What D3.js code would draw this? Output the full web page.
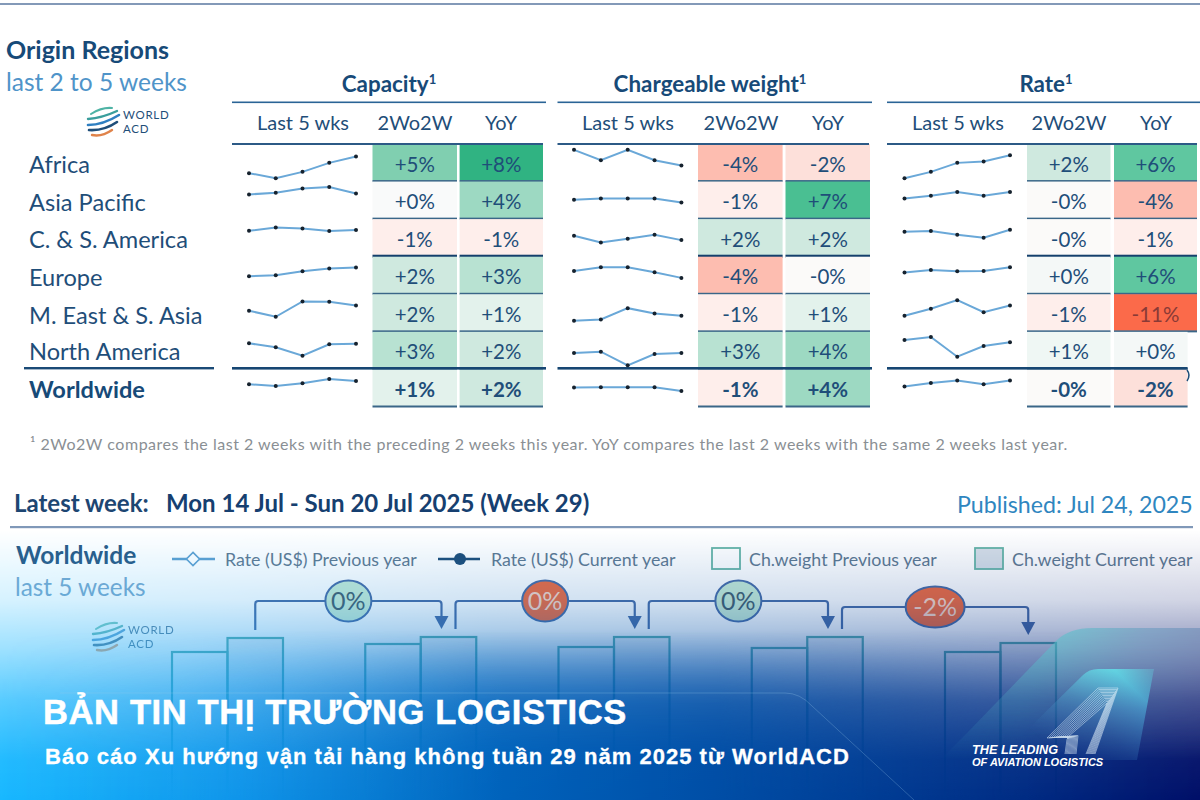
<!DOCTYPE html>
<html><head><meta charset="utf-8">
<script src="https://cdn.jsdelivr.net/npm/d3@7"></script>
<style>html,body{margin:0;padding:0;background:#fff}svg{display:block}</style>
</head><body><div id="c"></div>
<script>
const regions=["Africa","Asia Pacific","C. & S. America","Europe","M. East & S. Asia","North America","Worldwide"];
const metrics=["Capacity","Chargeable weight","Rate"];
const weekIdx=[1,2,3,4,5];
const capacitySpark=[[8.4,3.4,9.7,18.7,25.1],[24.7,26.4,30.7,32.1,25.7],[25.9,29.2,28.2,25.6,26.6],[18.1,19.1,23.1,25.7,26.7],[21.1,15.1,30.4,30.1,26.4],[26.1,22.1,13.7,25.1,25.7],[22.7,21.1,23.7,28.1,26.1]];
const weightSpark=[[31.7,21.4,31.7,21.4,16.1],[19.4,20.7,20.7,20.7,16.7],[20.9,14.2,17.9,21.9,16.6],[23.4,27.1,27.1,22.1,16.4],[11.1,12.4,23.7,18.4,16.1],[16.4,17.7,4.1,15.4,16.4],[19.4,19.7,19.7,19.7,16.1]];
const rateSpark=[[3.4,9.7,18.7,20.1,26.4],[20.7,23.4,27.1,23.4,27.1],[24.9,25.6,21.9,18.9,26.9],[21.7,24.4,23.1,23.4,27.1],[16.1,23.1,31.7,19.7,26.4],[29.4,32.4,12.7,23.4,27.1],[20.4,24.1,26.4,22.7,26.4]];
const capacity2w=["+5%","+0%","-1%","+2%","+2%","+3%","+1%"], capacity2wV=[5,0.1,-1,2,2,3,1];
const capacityYoy=["+8%","+4%","-1%","+3%","+1%","+2%","+2%"], capacityYoyV=[8,4,-1,3,1,2,2];
const weight2w=["-4%","-1%","+2%","-4%","-1%","+3%","-1%"], weight2wV=[-4,-1,2,-4,-1,3,-1];
const weightYoy=["-2%","+7%","+2%","-0%","+1%","+4%","+4%"], weightYoyV=[-2,7,2,-0.1,1,4,4];
const rate2w=["+2%","-0%","-0%","+0%","-1%","+1%","-0%"], rate2wV=[2,-0.1,-0.1,0.3,-1,0.5,-0.1];
const rateYoy=["+6%","-4%","-1%","+6%","-11%","+0%","-2%"], rateYoyV=[6,-4,-1,6,-11,0.3,-2];
const bubbleLabels=["0%","0%","0%","-2%"];
const bubbleKinds=["up","down","up","down"];
const chPrev=[148,156,153,152,148];
const chCurr=[162,163,163,163,157];
const groups=["w1","w2","w3","w4","w5"];

const W=1200,H=800;
const navy="#1f4e79";
const svg=d3.select("#c").append("svg").attr("width",W).attr("height",H).attr("viewBox",`0 0 ${W} ${H}`).attr("font-family","Lato,sans-serif");
const defs=svg.append("defs");
const T=(g,x,y,s,o={})=>g.append("text").attr("x",x).attr("y",y).text(s)
  .attr("font-size",o.size||20).attr("font-weight",o.w||400).attr("fill",o.c||navy)
  .attr("text-anchor",o.a||"start").attr("letter-spacing",o.ls||null).attr("font-family",o.f||null).attr("font-style",o.st||null)
  .attr("stroke",o.sw?(o.c||navy):null).attr("stroke-width",o.sw||null);

svg.append("rect").attr("width",W).attr("height",H).attr("fill","#fff");
svg.append("rect").attr("x",0).attr("y",3).attr("width",W).attr("height",2).attr("fill","#8399b8");

// ---- titles
const topG=svg.append("g");
T(topG,6,59,"Origin Regions",{size:25,w:700,c:"#174a78"});
T(topG,6,91,"last 2 to 5 weeks",{size:24.5,c:"#4f94c9"});

function logo(g,x,y,s,op){
  const L=g.append("g").attr("transform",`translate(${x},${y}) scale(${s})`).attr("opacity",op).attr("fill","none").attr("stroke-linecap","round");
  [["M3 9Q14 2 24 3","#4fb3a5",2],["M0 14Q14 13 29 6","#3a9e9c",2.4],["M0 20Q15 20 31 10","#2f7fc1",2.6],["M1 25Q16 26 29 17","#1f4e79",2.6],["M4 30Q14 32 24 25","#e0834a",2.4]]
    .forEach(a=>L.append("path").attr("d",a[0]).attr("stroke",a[1]).attr("stroke-width",a[2]));
  T(L,35,14,"WORLD",{size:11.5,c:"#1f4e79",ls:.7});
  T(L,35,28,"ACD",{size:11.5,c:"#1f4e79",ls:.7});
}
logo(topG,88,105,1,1);

// ---- table
const y=d3.scaleBand().domain(regions).range([144,407]);
const spY=d3.scaleLinear().domain([0,y.bandwidth()]).range([y.bandwidth(),0]);
const fillScale=d3.scaleLinear()
  .domain([-11,-4,-2,-1,0,1,2,3,4,5,6,7,8])
  .range(["#fb6a4a","#fdbdb0","#fde0da","#feeeeb","#fbfbfb","#e3f2ec","#cfe9df","#b8e2d2","#9dd9c2","#80cfb0","#5fc7a0","#4abf92","#30b382"]);
const tables=[
 {name:metrics[0],head:[232,546],sub:[303,415,501],spark:capacitySpark,sx:[249,356],c:[[372.5,457,capacity2w,capacity2wV],[459.6,543,capacityYoy,capacityYoyV]]},
 {name:metrics[1],head:[557.5,872],sub:[628,741,828],spark:weightSpark,sx:[574,681.4],c:[[698,782.6,weight2w,weight2wV],[785.5,870,weightYoy,weightYoyV]]},
 {name:metrics[2],head:[887,1200],sub:[958,1069,1156],spark:rateSpark,sx:[904.5,1010],c:[[1027,1110.5,rate2w,rate2wV],[1114,1197,rateYoy,rateYoyV]]}
];
const tb=svg.append("g");
regions.forEach((r,i)=>{
  const ww=r==="Worldwide";
  T(tb,29,[173,210.5,248,286,323.5,360,398][i],r,{size:23.6,w:ww?700:400,c:ww?"#174a78":"#1f4e79"});
});
tb.append("rect").attr("x",24).attr("y",367).attr("width",190).attr("height",2.4).attr("fill","#1a4a76");
tables.forEach((t,ti)=>{
  const hd=T(tb,[389,710,1046][ti],92,t.name,{size:22.4,w:700,a:"middle",c:"#174a78"});
  hd.append("tspan").text("1").attr("font-size",13).attr("dy",-8);
  tb.append("rect").attr("x",t.head[0]).attr("y",101.5).attr("width",t.head[1]-t.head[0]).attr("height",1.6).attr("fill","#2a6496");
  ["Last 5 wks","2Wo2W","YoY"].forEach((s,k)=>T(tb,t.sub[k],130,s,{size:20,a:"middle",c:"#1f4e79"}));
  const sx=d3.scalePoint().domain(weekIdx).range(t.sx);
  const line=d3.line().x((d,k)=>sx(weekIdx[k])).y(d=>spY(d));
  t.c.forEach(col=>{
    regions.forEach((r,i)=>{
      const rowT=y(r), bw=y.bandwidth();
      const xr=(ti===2&&col===t.c[1]&&i>=5)?1187.6:col[1];
      tb.append("rect").attr("x",col[0]).attr("y",rowT).attr("width",xr-col[0]).attr("height",bw-1).attr("fill",fillScale(col[3][i]));
      const thick=i===2?3:2;
      tb.append("rect").attr("x",col[0]).attr("y",rowT+bw-thick/2-.5).attr("width",xr-col[0]).attr("height",thick)
        .attr("fill",i===2?"#14406c":"#3a6688");
      const red=col[3][i]<-8;
      T(tb,(col[0]+col[1])/2,rowT+27.5,col[2][i],{size:20.5,a:"middle",w:i===6?700:400,c:red?"#8a3a36":"#1f4e79"});
    });
  });
  tb.append("rect").attr("x",t.head[0]).attr("y",143).attr("width",t.head[1]-t.head[0]-3).attr("height",2).attr("fill","#2c5a86");
  tb.append("rect").attr("x",t.head[0]).attr("y",367).attr("width",(ti===2?1187.6:t.head[1])-t.head[0]).attr("height",2.6).attr("fill","#164672");
  regions.forEach((r,i)=>{
    const g=tb.append("g").attr("transform",`translate(0,${y(r)})`);
    g.append("path").attr("d",line(t.spark[i])).attr("fill","none").attr("stroke","#6aa8d8").attr("stroke-width",2);
    g.selectAll("circle").data(t.spark[i]).join("circle").attr("cx",(d,k)=>sx(weekIdx[k])).attr("cy",d=>spY(d)).attr("r",2).attr("fill","#16222e");
  });
});
tb.append("path").attr("d","M1187 370Q1191 375 1187 381").attr("fill","none").attr("stroke","#1f4e79").attr("stroke-width",1.5);

T(svg,30,450,"¹ 2Wo2W compares the last 2 weeks with the preceding 2 weeks this year. YoY compares the last 2 weeks with the same 2 weeks last year.",{size:16,c:"#8a8f94",ls:.52});

// ---- lower header
const low=svg.append("g");
T(low,14,512,"Latest week:",{size:24,w:700,c:"#1d4672"});
T(low,166,512,"Mon 14 Jul - Sun 20 Jul 2025 (Week 29)",{size:24,w:700,c:"#163f70"});
T(low,957,513,"Published: Jul 24, 2025",{size:23.2,c:"#2f86c0"});
low.append("rect").attr("x",10).attr("y",526).attr("width",1183).attr("height",2.2).attr("fill","#8098b8");

// ---- lower chart (beneath the overlay)
const chart=svg.append("g");
T(chart,16,564,"Worldwide",{size:24.5,w:700,c:"#2a5a86"});
T(chart,15,596,"last 5 weeks",{size:24.3,c:"#7aa9cf"});
const legC="#5f7a92";
chart.append("line").attr("x1",172).attr("x2",215).attr("y1",559).attr("y2",559).attr("stroke","#5fa0d0").attr("stroke-width",2.4);
chart.append("path").attr("d",d3.symbol(d3.symbolDiamond2,110)()).attr("transform","translate(193,559)").attr("fill","#fff").attr("stroke","#5fa0d0").attr("stroke-width",1.6);
T(chart,225,566,"Rate (US$) Previous year",{size:17.8,c:legC});
chart.append("line").attr("x1",438).attr("x2",480).attr("y1",559).attr("y2",559).attr("stroke","#1f4e79").attr("stroke-width",2.6);
chart.append("circle").attr("cx",460).attr("cy",559).attr("r",6).attr("fill","#1f4e79");
T(chart,491,566,"Rate (US$) Current year",{size:17.8,c:legC});
chart.append("rect").attr("x",712).attr("y",548).attr("width",28).attr("height",21).attr("fill","#fff").attr("stroke","#67b5a8").attr("stroke-width",1.8);
T(chart,749,566,"Ch.weight Previous year",{size:17.8,c:legC});
chart.append("rect").attr("x",975).attr("y",548).attr("width",28).attr("height",21).attr("fill","#d6dfe8").attr("stroke","#67b5a8").attr("stroke-width",1.8);
T(chart,1012,566,"Ch.weight Current year",{size:17.8,c:legC});
logo(chart,93,620,1,.7);

const gx=d3.scaleBand().domain(groups).range([172,1056]).paddingInner(.4256);
const sub=d3.scaleBand().domain(["prev","curr"]).range([0,gx.bandwidth()]);
const by=d3.scaleLinear().domain([0,165]).range([800,635]);
const bars=chart.selectAll("g.grp").data(groups).join("g").attr("class","grp").attr("transform",d=>`translate(${gx(d)},0)`);
bars.append("rect").attr("x",sub("prev")).attr("width",sub.bandwidth()).attr("y",(d,i)=>by(chPrev[i])).attr("height",(d,i)=>by(0)-by(chPrev[i]))
  .attr("fill","#fff").attr("fill-opacity",.25).attr("stroke","#5fb0ae").attr("stroke-width",2.2);
bars.append("rect").attr("x",sub("curr")).attr("width",sub.bandwidth()).attr("y",(d,i)=>by(chCurr[i])).attr("height",(d,i)=>by(0)-by(chCurr[i]))
  .attr("fill","#d6dfe8").attr("fill-opacity",.35).attr("stroke","#5fb0ae").attr("stroke-width",2.2);
const cc=i=>gx(groups[i])+sub("curr")+sub.bandwidth()/2;
const arrC="#4a6ea8";
d3.range(4).forEach(i=>{
  const x0=cc(i)+(i?7:0), x1=cc(i+1)-(i<3?7:0);
  const lv=by(chCurr[i+1])-36, y0=by(chCurr[i])-8, tip=by(chCurr[i+1])-8;
  chart.append("path").attr("d",`M${x0} ${y0}V${lv+3}Q${x0} ${lv} ${x0+3} ${lv}H${x1-3}Q${x1} ${lv} ${x1} ${lv+3}V${tip-12}`)
    .attr("fill","none").attr("stroke",arrC).attr("stroke-width",2.2);
  chart.append("path").attr("d",`M${x1-7} ${tip-13}H${x1+7}L${x1} ${tip}Z`).attr("fill",arrC);
  const mx=(x0+x1)/2, up=bubbleKinds[i]==="up", wide=bubbleLabels[i].length>2;
  chart.append("ellipse").attr("cx",mx).attr("cy",lv).attr("rx",wide?29.5:23).attr("ry",20.5)
    .attr("fill",up?"#c8ecd6":"#f26c40").attr("stroke",arrC).attr("stroke-width",2);
  T(chart,mx,lv+9,bubbleLabels[i],{size:25,a:"middle",c:up?"#44606e":"#fbd8c8"});
});

// ---- blue overlay: a fill gradient seen through two stacked fades
const grad=(id,attrs,stops,op)=>{
  const g=defs.append("linearGradient").attr("id",id).attr("gradientUnits","userSpaceOnUse");
  Object.entries(attrs).forEach(([k,v])=>g.attr(k,v));
  stops.forEach(s=>g.append("stop").attr("offset",s[0]).attr("stop-color",op?"#fff":s[1]).attr("stop-opacity",op?s[1]:1));
};
grad("fg",{x1:0,x2:1200,y1:0,y2:0},[[0,"#18b8ff"],[.2,"#0f95ea"],[.42,"#0062bb"],[.62,"#004ba3"],[.85,"#002c84"],[1,"#000f68"]]);
grad("m1",{x1:0,x2:0,y1:530,y2:800},[[0,0],[.26,.18],[.44,.42],[.63,.72],[.85,.95],[1,1]],true);
grad("m2",{x1:0,x2:0,y1:630,y2:760},[[0,0],[.57,.75],[1,1]],true);
grad("m3",{x1:0,x2:1200,y1:0,y2:0},[[0,0],[.15,.15],[.4,.85],[.6,.85],[.85,.3],[1,.2]],true);
const mask=(id,fill)=>defs.append("mask").attr("id",id).attr("maskUnits","userSpaceOnUse").attr("x",0).attr("y",0).attr("width",W).attr("height",H)
  .append("rect").attr("width",W).attr("height",H).attr("fill",fill);
mask("k1","url(#m1)");mask("k2","url(#m2)");mask("k3","url(#m3)");
svg.append("rect").attr("width",W).attr("height",H).attr("fill","url(#fg)").attr("mask","url(#k1)");
svg.append("g").attr("mask","url(#k3)").append("rect").attr("width",W).attr("height",H).attr("fill","url(#fg)").attr("mask","url(#k2)");

// ---- decoration
grad("tg",{x1:1060,y1:630,x2:1200,y2:700},[[0,"#56c4cc"],[.5,"#6a9cc0"],[1,"#6a80b0"]]);
grad("tf",{x1:1000,y1:630,x2:1000,y2:760},[[0,.6],[.5,.22],[1,0]],true);
mask("kf","url(#tf)");
svg.append("path").attr("d","M967 733L1057 640Q1070 628 1092 628H1200V760H940Z").attr("fill","url(#tg)").attr("mask","url(#kf)");
grad("tg2",{x1:1095,y1:669,x2:1095,y2:760},[[0,"#62e2ea"],[.45,"#4a9ccc"],[1,"#2a60a8"]]);
grad("tf2",{x1:1150,y1:669,x2:1060,y2:760},[[0,.3],[.2,.85],[.6,.35],[1,0]],true);
mask("kf2","url(#tf2)");
svg.append("path").attr("d","M1007 750L1083 675Q1089 669 1098 669H1154L1137 760H1000Z").attr("fill","url(#tg2)").attr("mask","url(#kf2)");
const A=svg.append("g").attr("fill","none").attr("stroke","#e4f2fa").attr("stroke-width",.6).attr("opacity",.85);
d3.range(0,10.01,1).forEach(k=>{
  A.append("path").attr("d",`M${1076-1.1*k} 754L${1078-1.1*k} ${735.5+.4*k}L${1047+2.2*k} ${738-.2*k}L${1098+.9*k} ${688+1.5*k}H${1118-1.1*k}L${1095-.9*k} 754`);
});
svg.append("path").attr("d","M60 693H785Q800 693 812 706L914 800").attr("fill","none").attr("stroke","#9cc8ea").attr("stroke-opacity",.28).attr("stroke-width",1);

// ---- overlay text
const ov=svg.append("g");
const LS="'Liberation Sans',Arial,sans-serif";
T(ov,43,724,"BẢN TIN THỊ TRƯỜNG LOGISTICS",{size:34.5,w:700,c:"#fff",f:LS,ls:.64,sw:.5});
T(ov,45,764,"Báo cáo Xu hướng vận tải hàng không tuần 29 năm 2025 từ WorldACD",{size:22,w:700,c:"#fff",f:LS,ls:1.03,sw:.3});
T(ov,972,754,"THE LEADING",{size:12.7,w:700,c:"#fff",f:LS,st:"italic"});
T(ov,972,766,"OF AVIATION LOGISTICS",{size:11,w:700,c:"#fff",f:LS,st:"italic"});
</script></body></html>
